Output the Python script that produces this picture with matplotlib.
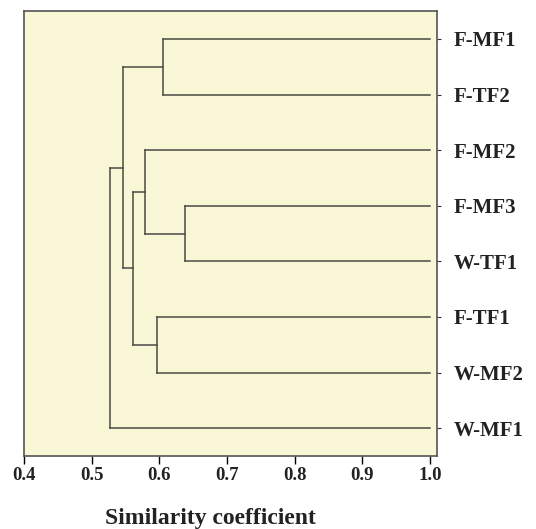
import matplotlib.pyplot as plt

leaves = ["F-MF1", "F-TF2", "F-MF2", "F-MF3", "W-TF1", "F-TF1", "W-MF2", "W-MF1"]

# merges: (cluster a, cluster b, similarity); clusters numbered after leaves
merges = [
    (0, 1, 0.606),   # 8
    (3, 4, 0.638),   # 9
    (2, 9, 0.578),   # 10
    (5, 6, 0.597),   # 11
    (10, 11, 0.561), # 12
    (8, 12, 0.546),  # 13
    (13, 7, 0.527),  # 14
]

line_col = "#4a4a44"
bg = "#faf7d6"

plt.rcParams['font.family'] = ['Liberation Serif', 'DejaVu Serif']

fig = plt.figure(figsize=(5.36, 5.29), dpi=100)
ax = fig.add_axes([0.045, 0.138, 0.770, 0.841])
ax.set_facecolor(bg)

# position / height of each cluster
ypos = {i: i for i in range(len(leaves))}
xpos = {i: 1.0 for i in range(len(leaves))}
for k, (a, b, s) in enumerate(merges):
    c = len(leaves) + k
    ax.plot([xpos[a], s], [ypos[a], ypos[a]], color=line_col, lw=1.1)
    ax.plot([xpos[b], s], [ypos[b], ypos[b]], color=line_col, lw=1.1)
    ax.plot([s, s], [ypos[a], ypos[b]], color=line_col, lw=1.1)
    ypos[c] = (ypos[a] + ypos[b]) / 2
    xpos[c] = s

ax.set_xlim(0.4, 1.01)
ax.set_ylim(len(leaves) - 0.5, -0.5)
ax.set_xticks([0.4, 0.5, 0.6, 0.7, 0.8, 0.9, 1.0])
ax.set_xticklabels(["0.4", "0.5", "0.6", "0.7", "0.8", "0.9", "1.0"],
                   fontsize=13.5, fontweight='bold')
ax.set_yticks(range(len(leaves)))
ax.set_yticklabels(leaves, fontsize=15, fontweight='bold')
ax.yaxis.tick_right()
ax.tick_params(axis='y', length=3, width=0.8, pad=9, colors='#333333', labelcolor='#222222')
ax.tick_params(axis='x', length=6, width=1.0, pad=2, labelcolor='#222222')

for sp in ax.spines.values():
    sp.set_color('#555555')
    sp.set_linewidth(1.2)

fig.text(0.392, 0.025, "Similarity coefficient", fontsize=17, fontweight='bold',
         ha='center', va='center_baseline', color='#222222')

fig.savefig("out.png", dpi=100)
